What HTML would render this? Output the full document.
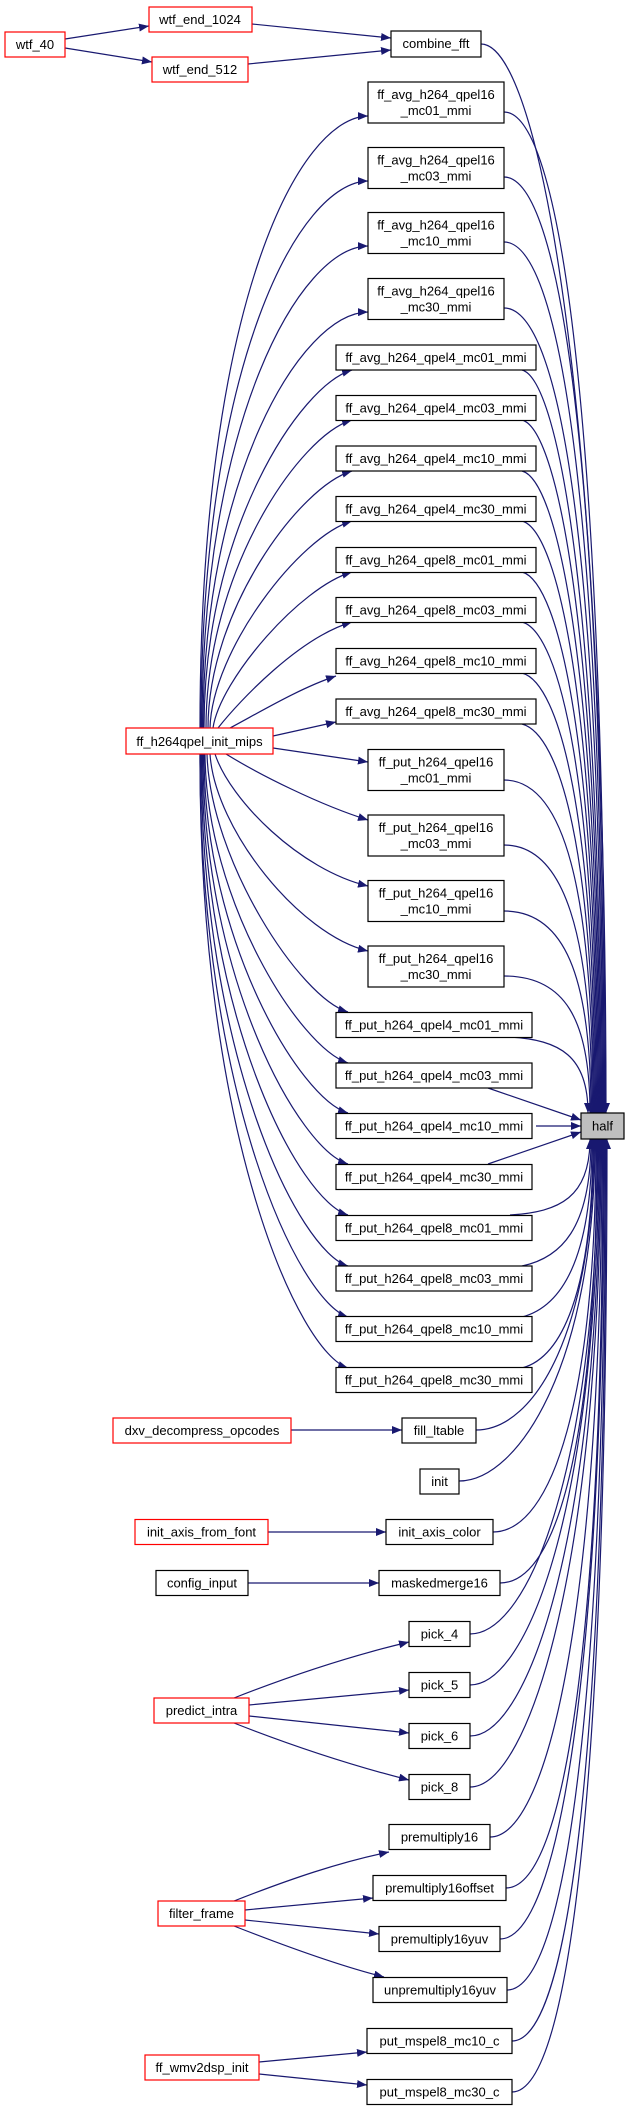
<!DOCTYPE html>
<html><head><meta charset="utf-8"><style>
html,body{margin:0;padding:0;background:#fff;}
svg{display:block;}
text{font-family:"Liberation Sans",Arial,sans-serif;font-size:13px;fill:#000;text-anchor:middle;}
.e{fill:none;stroke:#191970;stroke-width:1.2;}
.b{fill:#fff;stroke:#000;stroke-width:1.2;}
.r{fill:#fff;stroke:#ff0000;stroke-width:1.2;}
</style></head><body>
<svg width="629" height="2108" viewBox="0 0 629 2108" xmlns="http://www.w3.org/2000/svg">
<defs><marker id="a" markerWidth="11" markerHeight="8" refX="10" refY="4" orient="auto" markerUnits="userSpaceOnUse"><path d="M0,0 L10,4 L0,8z" fill="#191970"/></marker></defs>
<g class="e" marker-end="url(#a)">
<!-- top -->
<path d="M65,39 L149,26"/>
<path d="M65,48 L152,62"/>
<path d="M252,24 L391,38"/>
<path d="M248,64 L391,50"/>
<!-- upper to half -->
<path d="M481,44 C541,44 606,418 606,1113"/>
<path d="M504,112 C564,112 605,456 605,1113"/>
<path d="M504,177 C564,177 604,499 604,1113"/>
<path d="M504,242 C564,242 603,541 603,1113"/>
<path d="M504,308 C564,308 602,584 602,1113"/>
<path d="M522,370 C560,380 601,622 601,1113"/>
<path d="M522,420 C560,430 600,655 600,1113"/>
<path d="M522,471 C560,481 599,688 599,1113"/>
<path d="M522,521 C560,531 598,720 598,1113"/>
<path d="M522,572 C560,582 597,754 597,1113"/>
<path d="M522,622 C560,632 596,786 596,1113"/>
<path d="M522,673 C560,683 595,819 595,1113"/>
<path d="M522,724 C560,734 594,852 594,1113"/>
<path d="M504,780 C564,780 593,890 593,1113"/>
<path d="M504,845 C564,845 592,933 592,1113"/>
<path d="M504,911 C564,911 591,975 591,1113"/>
<path d="M504,976 C564,976 590,1018 590,1113"/>
<path d="M510,1037 C560,1040 588,1056 588,1113"/>
<path d="M488,1088 L581,1120"/>
<path d="M536,1126 L581,1126"/>
<path d="M488,1164 L581,1132"/>
<!-- lower to half -->
<path d="M510,1215 C560,1212 590,1197 590,1139"/>
<path d="M522,1266 C560,1258 591,1230 591,1139"/>
<path d="M522,1317 C560,1307 592,1262 592,1139"/>
<path d="M522,1368 C560,1358 593,1296 593,1139"/>
<path d="M476,1430 C536,1430 594,1328 594,1139"/>
<path d="M459,1481 C519,1481 595,1362 595,1139"/>
<path d="M493,1532 C553,1532 596,1394 596,1139"/>
<path d="M500,1583 C560,1583 597,1428 597,1139"/>
<path d="M470,1634 C530,1634 598,1461 598,1139"/>
<path d="M470,1685 C530,1685 599,1494 599,1139"/>
<path d="M470,1736 C530,1736 600,1527 600,1139"/>
<path d="M470,1787 C530,1787 601,1560 601,1139"/>
<path d="M490,1837 C550,1837 602,1593 602,1139"/>
<path d="M506,1888 C566,1888 603,1626 603,1139"/>
<path d="M500,1939 C560,1939 604,1659 604,1139"/>
<path d="M507,1990 C567,1990 605,1692 605,1139"/>
<path d="M512,2041 C572,2041 606,1725 606,1139"/>
<path d="M512,2092 C572,2092 607,1758 607,1139"/>
<!-- init_mips up -->
<path d="M200,728 C200,300 300,117 368,116"/>
<path d="M201,728 C201,360 300,182 368,181"/>
<path d="M202,728 C202,420 300,247 368,246"/>
<path d="M203,728 C203,480 300,313 368,312"/>
<path d="M204,728 C204,530 300,385 352,370"/>
<path d="M206,728 C206,570 300,435 352,420"/>
<path d="M208,728 C208,610 300,486 352,471"/>
<path d="M210,728 C212,650 300,536 352,521"/>
<path d="M213,728 C220,680 300,587 352,572"/>
<path d="M218,728 C240,700 300,637 352,622"/>
<path d="M230,728 C260,712 300,688 336,676"/>
<path d="M273,736 L336,722"/>
<!-- init_mips down -->
<path d="M273,748 L368,762"/>
<path d="M226,754 C260,775 320,805 368,820"/>
<path d="M215,754 C230,800 300,870 368,886"/>
<path d="M210,754 C215,830 300,935 368,951"/>
<path d="M207,754 C210,860 300,998 348,1012"/>
<path d="M205,754 C206,900 300,1048 348,1063"/>
<path d="M204,754 C204,940 300,1099 348,1113"/>
<path d="M203,754 C203,980 300,1150 348,1164"/>
<path d="M202,754 C202,1020 300,1201 348,1215"/>
<path d="M201,754 C201,1060 300,1252 348,1266"/>
<path d="M200,754 C200,1100 300,1302 348,1317"/>
<path d="M200,754 C199,1140 300,1353 348,1368"/>
<!-- bottom left -->
<path d="M291,1430 L402,1430"/>
<path d="M268,1532 L386,1532"/>
<path d="M248,1583 L379,1583"/>
<path d="M234,1698 C290,1676 350,1656 409,1642"/>
<path d="M249,1705 L409,1690"/>
<path d="M249,1716 L409,1733"/>
<path d="M234,1723 C290,1745 350,1765 409,1780"/>
<path d="M234,1901 C290,1879 340,1862 389,1852"/>
<path d="M245,1910 L373,1898"/>
<path d="M245,1920 L379,1934"/>
<path d="M234,1926 C290,1948 340,1966 384,1977"/>
<path d="M259,2062 L367,2052"/>
<path d="M259,2074 L367,2085"/>
</g>
<!-- nodes -->
<rect class="r" x="5" y="32" width="60" height="25"/><text x="35" y="49">wtf_40</text>
<rect class="r" x="149" y="7" width="103" height="25"/><text x="200" y="24">wtf_end_1024</text>
<rect class="r" x="152" y="57" width="96" height="25"/><text x="200" y="74">wtf_end_512</text>
<rect class="b" x="391" y="31" width="90" height="26"/><text x="436" y="48">combine_fft</text>

<rect class="b" x="368" y="82" width="136" height="41"/><text x="436" y="99">ff_avg_h264_qpel16</text><text x="436" y="115">_mc01_mmi</text>
<rect class="b" x="368" y="147.5" width="136" height="41"/><text x="436" y="164.5">ff_avg_h264_qpel16</text><text x="436" y="180.5">_mc03_mmi</text>
<rect class="b" x="368" y="212.5" width="136" height="41"/><text x="436" y="229.5">ff_avg_h264_qpel16</text><text x="436" y="245.5">_mc10_mmi</text>
<rect class="b" x="368" y="278.5" width="136" height="41"/><text x="436" y="295.5">ff_avg_h264_qpel16</text><text x="436" y="311.5">_mc30_mmi</text>

<rect class="b" x="336" y="345" width="200" height="25"/><text x="436" y="362">ff_avg_h264_qpel4_mc01_mmi</text>
<rect class="b" x="336" y="395.5" width="200" height="25"/><text x="436" y="412.5">ff_avg_h264_qpel4_mc03_mmi</text>
<rect class="b" x="336" y="446" width="200" height="25"/><text x="436" y="463">ff_avg_h264_qpel4_mc10_mmi</text>
<rect class="b" x="336" y="496.5" width="200" height="25"/><text x="436" y="513.5">ff_avg_h264_qpel4_mc30_mmi</text>
<rect class="b" x="336" y="547.5" width="200" height="25"/><text x="436" y="564.5">ff_avg_h264_qpel8_mc01_mmi</text>
<rect class="b" x="336" y="597.5" width="200" height="25"/><text x="436" y="614.5">ff_avg_h264_qpel8_mc03_mmi</text>
<rect class="b" x="336" y="648.5" width="200" height="25"/><text x="436" y="665.5">ff_avg_h264_qpel8_mc10_mmi</text>
<rect class="b" x="336" y="699" width="200" height="25"/><text x="436" y="716">ff_avg_h264_qpel8_mc30_mmi</text>

<rect class="r" x="126" y="728" width="147" height="26"/><text x="199.5" y="746">ff_h264qpel_init_mips</text>

<rect class="b" x="368" y="749.5" width="136" height="41"/><text x="436" y="766.5">ff_put_h264_qpel16</text><text x="436" y="782.5">_mc01_mmi</text>
<rect class="b" x="368" y="815" width="136" height="41"/><text x="436" y="832">ff_put_h264_qpel16</text><text x="436" y="848">_mc03_mmi</text>
<rect class="b" x="368" y="880.5" width="136" height="41"/><text x="436" y="897.5">ff_put_h264_qpel16</text><text x="436" y="913.5">_mc10_mmi</text>
<rect class="b" x="368" y="946" width="136" height="41"/><text x="436" y="963">ff_put_h264_qpel16</text><text x="436" y="979">_mc30_mmi</text>

<rect class="b" x="336" y="1012.5" width="196" height="25"/><text x="434" y="1029.5">ff_put_h264_qpel4_mc01_mmi</text>
<rect class="b" x="336" y="1063" width="196" height="25"/><text x="434" y="1080">ff_put_h264_qpel4_mc03_mmi</text>
<rect class="b" x="336" y="1113.5" width="196" height="25"/><text x="434" y="1130.5">ff_put_h264_qpel4_mc10_mmi</text>
<rect class="b" x="336" y="1164.5" width="196" height="25"/><text x="434" y="1181.5">ff_put_h264_qpel4_mc30_mmi</text>
<rect class="b" x="336" y="1215.5" width="196" height="25"/><text x="434" y="1232.5">ff_put_h264_qpel8_mc01_mmi</text>
<rect class="b" x="336" y="1266" width="196" height="25"/><text x="434" y="1283">ff_put_h264_qpel8_mc03_mmi</text>
<rect class="b" x="336" y="1316.5" width="196" height="25"/><text x="434" y="1333.5">ff_put_h264_qpel8_mc10_mmi</text>
<rect class="b" x="336" y="1367.5" width="196" height="25"/><text x="434" y="1384.5">ff_put_h264_qpel8_mc30_mmi</text>

<rect x="581" y="1113" width="43" height="26" fill="#bfbfbf" stroke="#000" stroke-width="1.2"/><text x="602.5" y="1130.5">half</text>

<rect class="r" x="113" y="1418" width="178" height="25"/><text x="202" y="1435">dxv_decompress_opcodes</text>
<rect class="b" x="402" y="1418" width="74" height="25"/><text x="439" y="1435">fill_ltable</text>
<rect class="b" x="420" y="1469" width="39" height="25"/><text x="439.5" y="1486">init</text>
<rect class="r" x="135" y="1519.5" width="133" height="25"/><text x="201.5" y="1536.5">init_axis_from_font</text>
<rect class="b" x="386" y="1519.5" width="107" height="25"/><text x="439.5" y="1536.5">init_axis_color</text>
<rect class="b" x="156" y="1570.5" width="92" height="25"/><text x="202" y="1587.5">config_input</text>
<rect class="b" x="379" y="1570.5" width="121" height="25"/><text x="439.5" y="1587.5">maskedmerge16</text>
<rect class="b" x="409" y="1621.5" width="61" height="25"/><text x="439.5" y="1638.5">pick_4</text>
<rect class="b" x="409" y="1672.5" width="61" height="25"/><text x="439.5" y="1689.5">pick_5</text>
<rect class="r" x="154" y="1698" width="95" height="25"/><text x="201.5" y="1715">predict_intra</text>
<rect class="b" x="409" y="1723.5" width="61" height="25"/><text x="439.5" y="1740.5">pick_6</text>
<rect class="b" x="409" y="1774.5" width="61" height="25"/><text x="439.5" y="1791.5">pick_8</text>
<rect class="b" x="389" y="1824.5" width="101" height="25"/><text x="439.5" y="1841.5">premultiply16</text>
<rect class="b" x="373" y="1875.5" width="133" height="25"/><text x="439.5" y="1892.5">premultiply16offset</text>
<rect class="r" x="158" y="1901" width="87" height="25"/><text x="201.5" y="1918">filter_frame</text>
<rect class="b" x="379" y="1926.5" width="121" height="25"/><text x="439.5" y="1943.5">premultiply16yuv</text>
<rect class="b" x="373" y="1977.5" width="134" height="25"/><text x="440" y="1994.5">unpremultiply16yuv</text>
<rect class="b" x="367" y="2028.5" width="145" height="25"/><text x="439.5" y="2045.5">put_mspel8_mc10_c</text>
<rect class="r" x="145" y="2055" width="114" height="25"/><text x="202" y="2072">ff_wmv2dsp_init</text>
<rect class="b" x="367" y="2079.5" width="145" height="25"/><text x="439.5" y="2096.5">put_mspel8_mc30_c</text>
</svg>
</body></html>
